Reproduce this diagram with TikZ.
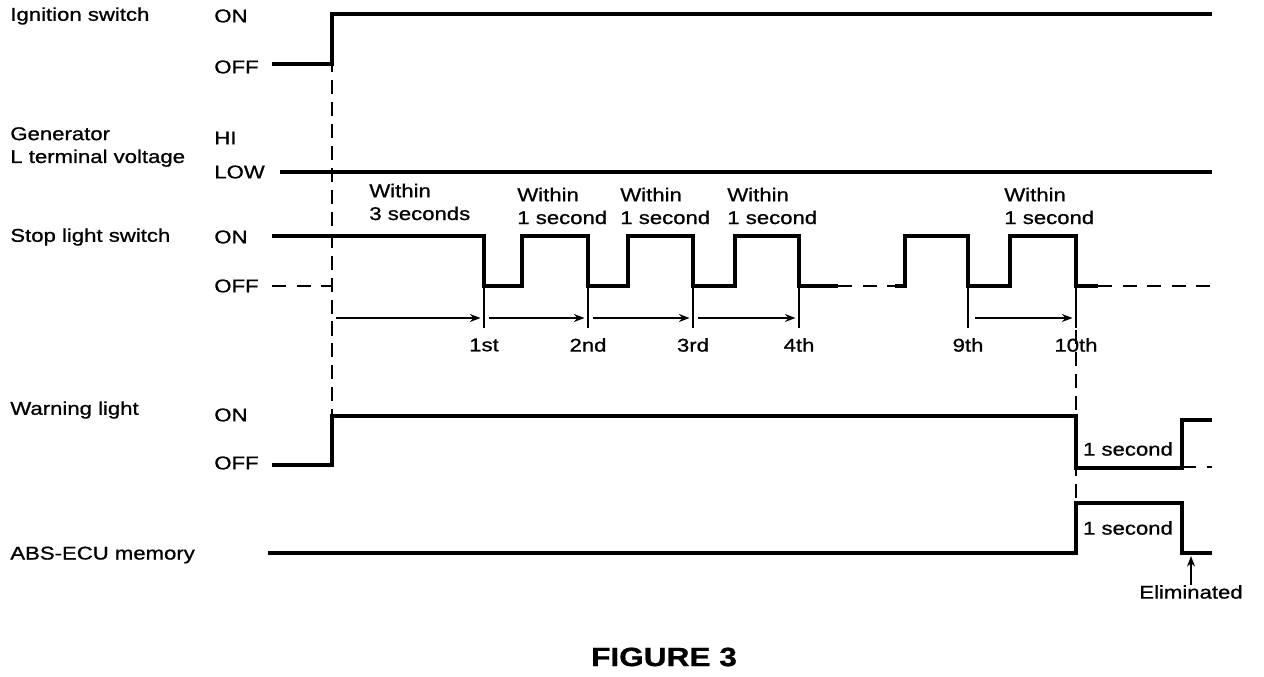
\documentclass[tikz,border=0pt]{standalone}
\usepackage{fontspec}
\setmainfont{Liberation Sans}[FakeStretch=1.2, FakeBold=0.9]
\usetikzlibrary{arrows.meta, positioning}

\begin{document}
\begin{tikzpicture}[
        x=0.02cm, y=-0.02cm,
        signal/.style={line width=2pt},
        tick/.style={line width=1.4pt},
        guide/.style={line width=1.5pt, dash pattern=on 8pt off 4.5pt},
        offdash/.style={line width=1.7pt, dash pattern=on 8pt off 6pt},
        dim/.style={line width=1.4pt, -{Stealth[length=6pt, width=4.5pt]}},
        txt/.style={font=\fontsize{10.5}{13}\selectfont, inner sep=0pt},
        signame/.style={txt, anchor=west, align=left},
        level/.style={txt, anchor=west},
        note/.style={txt, anchor=west, align=left},
        count/.style={txt, anchor=center}
    ]
    \useasboundingbox (0,0) rectangle (1264,676);

    % signal names
    \node [signame] (ign) at (10,16) {Ignition switch};
    \node [signame] (gen) at (10,147) {Generator\\L terminal voltage};
    \node [signame] (stop) at (10,237) {Stop light switch};
    \node [signame] (warn) at (10,410) {Warning light};
    \node [signame] (abs) at (10,555) {ABS-ECU memory};

    % levels
    \node [level] (ignOn) at (214,16) {ON};
    \node [level] (ignOff) at (214,67) {OFF};
    \node [level] (genHi) at (214,138) {HI};
    \node [level] (genLow) at (214,172) {LOW};
    \node [level] (stopOn) at (214,237) {ON};
    \node [level] (stopOff) at (214,286) {OFF};
    \node [level] (warnOn) at (214,415) {ON};
    \node [level] (warnOff) at (214,463) {OFF};

    % ignition switch
    \draw [signal] (272,64) -- (332,64) -- (332,14) -- (1212,14);
    % generator
    \draw [signal] (280,172) -- (1212,172);

    % stop light switch
    \draw [offdash] (272,286) -- (332,286);
    \draw [signal] (272,236) -- (484,236) -- (484,286) -- (522,286) -- (522,236)
        -- (588,236) -- (588,286) -- (628,286) -- (628,236) -- (693,236) -- (693,286)
        -- (735,286) -- (735,236) -- (799,236) -- (799,286) -- (838,286);
    \draw [offdash] (838,286) -- (895,286);
    \draw [signal] (895,286) -- (905,286) -- (905,236) -- (968,236) -- (968,286)
        -- (1010,286) -- (1010,236) -- (1076,236) -- (1076,286) -- (1098,286);
    \draw [offdash] (1098,286) -- (1212,286);

    % edges counted
    \foreach \x/\name/\txt in {484/c1/1st, 588/c2/2nd, 693/c3/3rd, 799/c4/4th, 968/c9/9th, 1076/c10/10th} {
        \coordinate (\name) at (\x,318);
        \draw [tick] (\x,286) -- (\x,328);
        \node [count] (\name lbl) at (\x,345) {\txt};
    }
    \coordinate (s0) at (336,318);
    \draw [dim] (s0) -- ([xshift=-2pt]c1);
    \draw [dim] ([xshift=3pt]c1) -- ([xshift=-2pt]c2);
    \draw [dim] ([xshift=3pt]c2) -- ([xshift=-2pt]c3);
    \draw [dim] ([xshift=3pt]c3) -- ([xshift=-2pt]c4);
    \draw [dim] ([xshift=4pt]c9) -- ([xshift=-2pt]c10);

    \node [note] (w0) at (369,202) {Within\\3 seconds};
    \node [note] (w1) at (517,206) {Within\\1 second};
    \node [note] (w2) at (620,206) {Within\\1 second};
    \node [note] (w3) at (727,206) {Within\\1 second};
    \node [note] (w9) at (1004,206) {Within\\1 second};

    % guide lines
    \draw [guide] (332,14) -- (332,416);
    \draw [guide] (1076,330) -- (1076,503);

    % warning light
    \draw [signal] (272,465) -- (332,465) -- (332,416) -- (1076,416) -- (1076,468)
        -- (1182,468) -- (1182,420) -- (1212,420);
    \draw [offdash] (1182,467) -- (1212,467);
    \node [count] (warnSec) at (1128,449) {1 second};

    % ABS-ECU memory
    \draw [signal] (268,553) -- (1076,553) -- (1076,503) -- (1182,503) -- (1182,553)
        -- (1212,553);
    \coordinate (absFall) at (1191,556);
    \node [count] (absSec) at (1128,528) {1 second};
    \node [count] (elim) at (1191,592) {Eliminated};
    \draw [tick, -{Stealth[length=6pt, width=4.5pt]}] (elim.north) -- (absFall);

    \node [font=\fontsize{15}{17}\selectfont\bfseries, inner sep=0pt] (fig) at (664,657) {FIGURE 3};
\end{tikzpicture}
\end{document}
